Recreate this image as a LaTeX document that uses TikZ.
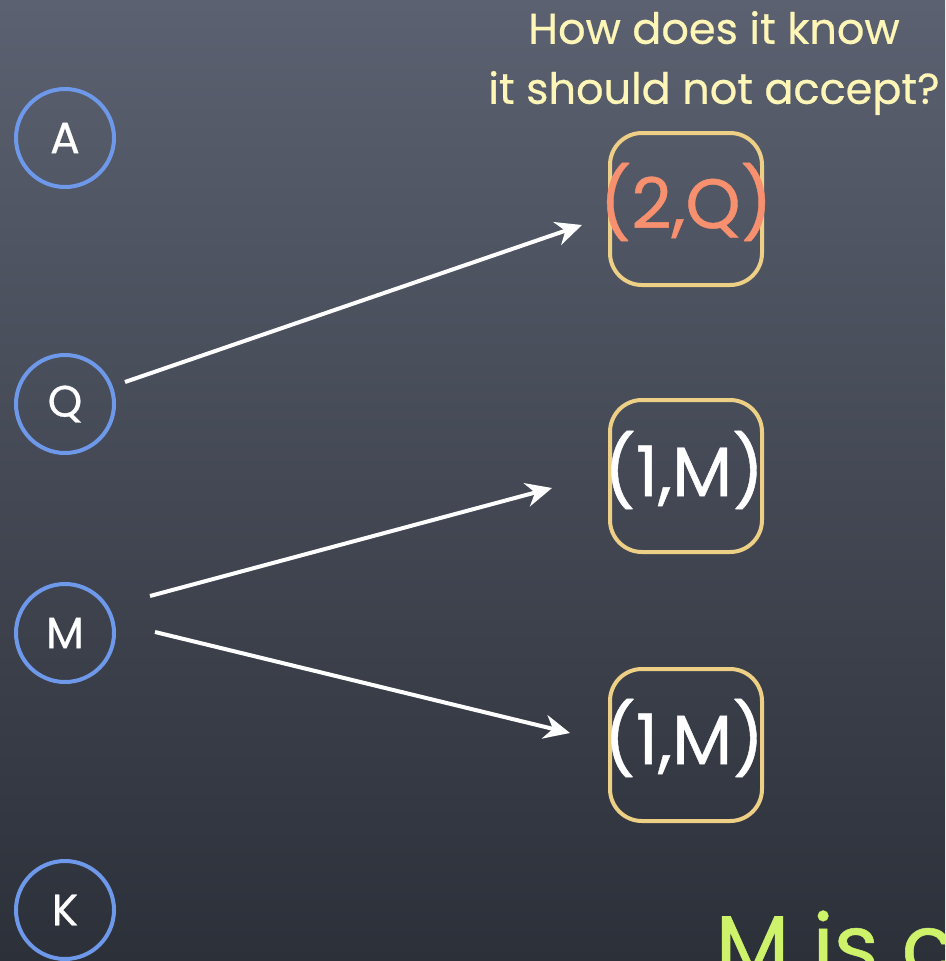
\documentclass[tikz,border=0pt]{standalone}
\usepackage{fontspec}
\setmainfont{Poppins}[FakeBold=0.6]
\usetikzlibrary{arrows.meta}
\definecolor{bgtop}{HTML}{5B6170}
\definecolor{bgbot}{HTML}{2C3039}
\definecolor{circblue}{HTML}{6E98EA}
\definecolor{boxyellow}{HTML}{EDCF86}
\definecolor{qsalmon}{HTML}{F7906F}
\definecolor{txtyellow}{HTML}{FDF6B6}
\definecolor{mgreen}{HTML}{CEF36B}
\tikzset{
  person/.style={circle, draw=circblue, line width=4pt, minimum size=98pt, inner sep=0pt, text=white, font=\fontsize{44}{44}\selectfont},
  msgbox/.style={draw=boxyellow, line width=4pt, rounded corners=32pt, minimum width=152pt, minimum height=152pt, inner sep=0pt},
  msgtext/.style={font=\fontsize{70}{70}\selectfont},
  arr/.style={draw=white, line width=4pt, -{Stealth[length=26pt,width=24pt]}},
}
\begin{document}
\begin{tikzpicture}[x=1pt,y=-1pt]
\useasboundingbox (0,0) rectangle (945,961);
\clip (0,0) rectangle (945,961);
\shade[top color=bgtop, bottom color=bgbot] (0,0) rectangle (945,961);
% people
\node[person] (A) at (65,138) {A};
\node[person] (Q) at (65,404) {Q};
\node[person] (M) at (65,633) {M};
\node[person] (K) at (65,910) {K};
% message boxes
\node[msgbox] (b1) at (686,209) {};
\node[msgbox] (b2) at (686,476) {};
\node[msgbox] (b3) at (686,745) {};
\node[msgtext, text=qsalmon] (t1) at (686,202) {(2,Q)};
\node[msgtext, text=white] (t2) at (684,470) {(1,M)};
\node[msgtext, text=white] (t3) at (684,738) {(1,M)};
% question
\node[text=txtyellow, font=\fontsize{43}{60}\selectfont, align=center] (qq) at (714,63) {How does it know\\it should not accept?};
% arrows
\coordinate (qs) at (125,382);
\coordinate (qe) at (582,225);
\coordinate (ms1) at (150,596);
\coordinate (me1) at (552,488);
\coordinate (ms2) at (155,632);
\coordinate (me2) at (570,733);
\draw[arr] (qs) -- (qe);
\draw[arr] (ms1) -- (me1);
\draw[arr] (ms2) -- (me2);
% bottom statement
\node[text=mgreen, font=\fontsize{86}{86}\selectfont, anchor=base west] (stmt) at (712,976) {M is c};
\end{tikzpicture}
\end{document}
